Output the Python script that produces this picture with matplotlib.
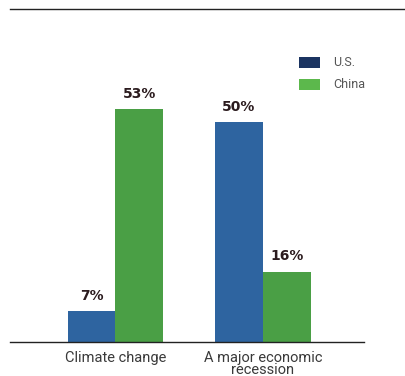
import matplotlib
matplotlib.use("Agg")
import matplotlib.pyplot as plt
from matplotlib.patches import Rectangle
from matplotlib.lines import Line2D
import numpy as np

plt.rcParams["font.family"] = ["Roboto", "DejaVu Sans"]

categories = ["Climate change", "A major economic\nrecession"]
series = ["U.S.", "China"]
us_vals = [7, 50]
china_vals = [53, 16]

bar_cols = ["#2e64a0", "#4a9f45"]
key_cols = ["#1b3461", "#5cb84c"]

W, H = 406, 376
fig = plt.figure(figsize=(W / 100, H / 100), dpi=100)

# axes placed in pixel terms: baseline at y=342, top rule at y=9
ax = fig.add_axes([10 / W, (H - 342) / H, (364 - 10) / W, (342 - 9) / H])

x = np.arange(len(categories))
bw = 0.325
bars_us = ax.bar(x - bw / 2, us_vals, bw, color=bar_cols[0], linewidth=0)
bars_cn = ax.bar(x + bw / 2, china_vals, bw, color=bar_cols[1], linewidth=0)

for bars, vals in ((bars_us, us_vals), (bars_cn, china_vals)):
    for b, v in zip(bars, vals):
        ax.annotate(f"{v}%", (b.get_x() + b.get_width() / 2, v),
                    xytext=(0, 6), textcoords="offset points",
                    ha="center", va="bottom", fontsize=10, fontweight="bold",
                    color="#2b1b1e", family=["DejaVu Sans"])

ax.set_xlim(-0.715, 1.685)
ax.set_ylim(0, 75.7)
ax.set_xticks(x)
ax.set_xticklabels(categories, fontsize=10.5, color="#3a3a3a", linespacing=0.8)
ax.tick_params(axis="x", length=0, pad=6.5)
ax.set_yticks([])
for s in ("top", "left", "right"):
    ax.spines[s].set_visible(False)
ax.spines["bottom"].set_color("#222222")
ax.spines["bottom"].set_linewidth(1.0)

# top rule across the figure
fig.add_artist(Line2D([10 / W, 405 / W], [(H - 9) / H, (H - 9) / H],
                      color="#222222", linewidth=1.0, transform=fig.transFigure))

# legend keys
for i, (name, c) in enumerate(zip(series, key_cols)):
    y0 = 57 + i * 22
    fig.add_artist(Rectangle((299 / W, (H - y0 - 11) / H), 21 / W, 11 / H,
                             facecolor=c, edgecolor="none", transform=fig.transFigure))
    fig.text(333 / W, (H - y0 - 5.5) / H, name, ha="left", va="center",
             fontsize=9, color="#555555")

fig.savefig("out.png", dpi=100)
